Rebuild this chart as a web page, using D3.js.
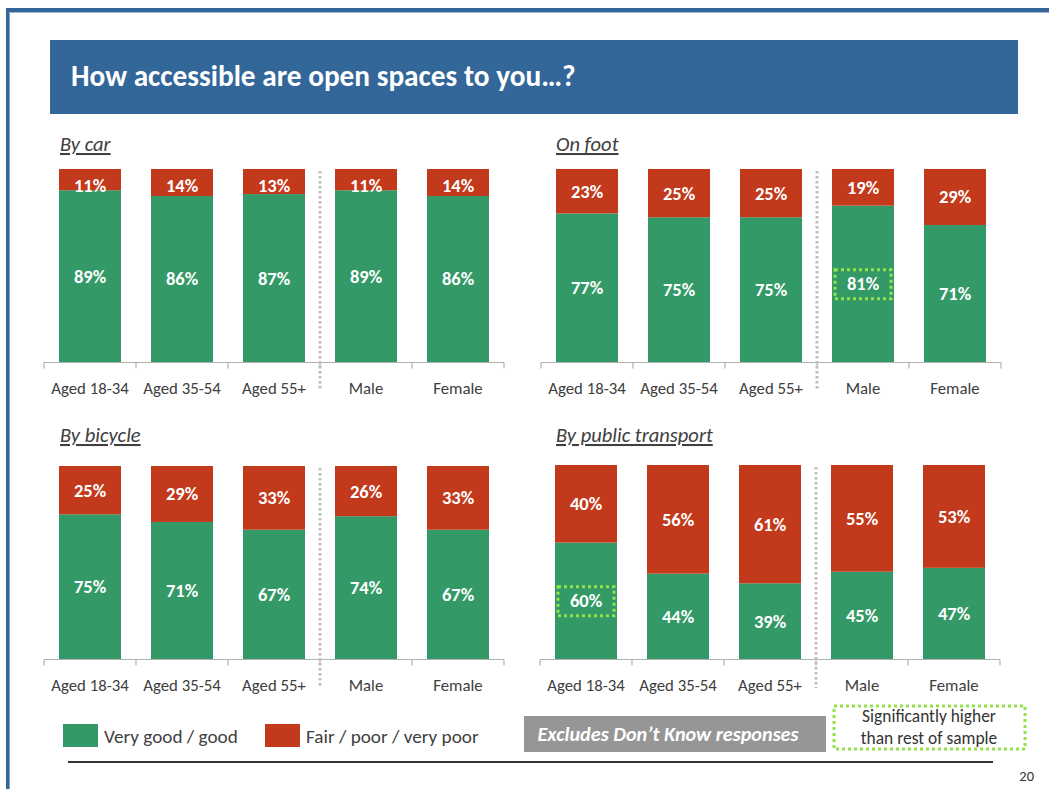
<!DOCTYPE html>
<html>
<head>
<meta charset="utf-8">
<script src="https://cdn.jsdelivr.net/npm/d3@7"></script>
<style>
  html, body { margin: 0; padding: 0; background: #fff; }
  svg { display: block; font-family: Carlito, Lato, "Open Sans", sans-serif; }
</style>
</head>
<body>
<svg id="slide" width="1049" height="789"></svg>
<script>
// Respondent groups shown on every panel
const groups = ["Aged 18-34", "Aged 35-54", "Aged 55+", "Male", "Female"];

// Share rating access "Very good / good" and "Fair / poor / very poor" (%)
const carGood      = [89, 86, 87, 89, 86];
const carPoor      = [11, 14, 13, 11, 14];
const footGood     = [77, 75, 75, 81, 71];
const footPoor     = [23, 25, 25, 19, 29];
const bicycleGood  = [75, 71, 67, 74, 67];
const bicyclePoor  = [25, 29, 33, 26, 33];
const publicGood   = [60, 44, 39, 45, 47];
const publicPoor   = [40, 56, 61, 55, 53];

// Groups significantly higher than the rest of the sample (good rating)
const footSignificant   = ["Male"];
const publicSignificant = ["Aged 18-34"];

const panelTitles = ["By car", "On foot", "By bicycle", "By public transport"];
const legendLabels = ["Very good / good", "Fair / poor / very poor"];

const GREEN = "#339966", RED = "#c2391b", BLUE = "#336699";
const LIME = "#92e34a", TEXT = "#404040";

const svg = d3.select("#slide");

// Slide frame
svg.append("rect").attr("x", 6).attr("y", 8).attr("width", 1043).attr("height", 4).attr("fill", BLUE);
svg.append("rect").attr("x", 6).attr("y", 12).attr("width", 1043).attr("height", 1).attr("fill", "#9db7d3");
svg.append("rect").attr("x", 6).attr("y", 8).attr("width", 3).attr("height", 781).attr("fill", BLUE);
svg.append("rect").attr("x", 9).attr("y", 13).attr("width", 1).attr("height", 776).attr("fill", "#7fa2c8");

// Title banner
svg.append("rect").attr("x", 50).attr("y", 40).attr("width", 968).attr("height", 74).attr("fill", BLUE);
svg.append("text").attr("x", 71).attr("y", 86)
  .attr("fill", "#fff").attr("font-size", 29.3).attr("font-weight", "bold")
  .text("How accessible are open spaces to you…?");

const panels = [
  { title: panelTitles[0], good: carGood,     poor: carPoor,     sig: [],                x0: 44,  x1: 504,  top: 169, base: 362, tx: 60,  ty: 151 },
  { title: panelTitles[1], good: footGood,    poor: footPoor,    sig: footSignificant,   x0: 541, x1: 1001, top: 169, base: 362, tx: 556, ty: 151 },
  { title: panelTitles[2], good: bicycleGood, poor: bicyclePoor, sig: [],                x0: 44,  x1: 504,  top: 466, base: 659, tx: 60,  ty: 442 },
  { title: panelTitles[3], good: publicGood,  poor: publicPoor,  sig: publicSignificant, x0: 540, x1: 1000, top: 465, base: 659, tx: 556, ty: 442 }
];

const PAD = 0.326;

panels.forEach(p => {
  const g = svg.append("g");

  const x = d3.scaleBand().domain(groups).range([p.x0, p.x1])
    .paddingInner(PAD).paddingOuter(PAD / 2);
  const y = d3.scaleLinear().domain([0, 100]).range([p.base, p.top]);

  const rows = groups.map((name, i) => ({ name, good: p.good[i], poor: p.poor[i] }));
  const stacked = d3.stack().keys(["good", "poor"])(rows);

  // Panel heading
  g.append("text").attr("x", p.tx).attr("y", p.ty)
    .attr("fill", TEXT).attr("font-size", 20.5).attr("font-style", "italic")
    .attr("text-decoration", "underline")
    .text(p.title);

  // Stacked bars
  const colors = { good: GREEN, poor: RED };
  stacked.forEach(layer => {
    g.selectAll(null).data(layer).join("rect")
      .attr("x", d => x(d.data.name))
      .attr("width", x.bandwidth())
      .attr("y", d => y(d[1]))
      .attr("height", d => y(d[0]) - y(d[1]))
      .attr("fill", colors[layer.key]);
  });

  // Value labels, centred in each segment (kept clear of the bar top)
  stacked.forEach(layer => {
    g.selectAll(null).data(layer).join("text")
      .attr("x", d => x(d.data.name) + x.bandwidth() / 2)
      .attr("y", d => Math.max((y(d[0]) + y(d[1])) / 2, y(100) + 17))
      .attr("dy", "0.35em")
      .attr("text-anchor", "middle")
      .attr("fill", "#fff").attr("font-size", 18.5).attr("font-weight", "bold")
      .text(d => (d[1] - d[0]) + "%");
  });

  // Significance markers around the good-rating label
  const goodLayer = stacked[0].filter(d => p.sig.includes(d.data.name));
  g.selectAll(null).data(goodLayer).join("rect")
    .attr("x", d => x(d.data.name) + 3)
    .attr("width", x.bandwidth() - 6)
    .attr("y", d => (y(d[0]) + y(d[1])) / 2 - 14)
    .attr("height", 29)
    .attr("fill", "none").attr("stroke", LIME)
    .attr("stroke-width", 3).attr("stroke-dasharray", "3,3");

  // Category axis with ticks between groups
  const axisY = p.base + 0.5;
  g.append("line").attr("x1", p.x0).attr("x2", p.x1).attr("y1", axisY).attr("y2", axisY)
    .attr("stroke", "#b0b0b0").attr("stroke-width", 1.2);
  const step = x.step();
  const bounds = d3.range(groups.length + 1).map(i => p.x0 + i * step);
  g.selectAll(null).data(bounds).join("line")
    .attr("x1", d => d).attr("x2", d => d)
    .attr("y1", axisY).attr("y2", axisY + 6)
    .attr("stroke", "#b0b0b0").attr("stroke-width", 1.2);
  g.selectAll(null).data(groups).join("text")
    .attr("x", d => x(d) + x.bandwidth() / 2)
    .attr("y", p.base + 32)
    .attr("text-anchor", "middle")
    .attr("fill", TEXT).attr("font-size", 16.8)
    .text(d => d);

  // Dotted divider between age bands and gender
  const divX = bounds[3];
  g.append("line").attr("x1", divX).attr("x2", divX)
    .attr("y1", p.top + 2).attr("y2", p.base + 29)
    .attr("stroke", "#bfbfbf").attr("stroke-width", 3).attr("stroke-dasharray", "2.5,2.5");
});

// Legend
const legend = svg.append("g");
const legendItems = [
  { label: legendLabels[0], color: GREEN, x: 63 },
  { label: legendLabels[1], color: RED,   x: 265 }
];
legend.selectAll(null).data(legendItems).join("rect")
  .attr("x", d => d.x).attr("y", 724).attr("width", 35).attr("height", 23)
  .attr("fill", d => d.color);
legend.selectAll(null).data(legendItems).join("text")
  .attr("x", d => d.x + 41).attr("y", 743)
  .attr("fill", TEXT).attr("font-size", 19.2)
  .text(d => d.label);

// Note box
svg.append("rect").attr("x", 524).attr("y", 716).attr("width", 302).attr("height", 36).attr("fill", "#969696");
svg.append("text").attr("x", 668).attr("y", 741).attr("text-anchor", "middle")
  .attr("fill", "#fff").attr("font-size", 20.2).attr("font-weight", "bold").attr("font-style", "italic")
  .text("Excludes Don’t Know responses");

// Significance key
svg.append("rect").attr("x", 834).attr("y", 706).attr("width", 191).attr("height", 43)
  .attr("fill", "none").attr("stroke", LIME).attr("stroke-width", 3).attr("stroke-dasharray", "3,3");
svg.append("text").attr("x", 929).attr("y", 722).attr("text-anchor", "middle")
  .attr("fill", "#333").attr("font-size", 17.4).text("Significantly higher");
svg.append("text").attr("x", 929).attr("y", 744).attr("text-anchor", "middle")
  .attr("fill", "#333").attr("font-size", 17.4).text("than rest of sample");

// Footer rule and page number
svg.append("rect").attr("x", 68).attr("y", 761).attr("width", 925).attr("height", 2).attr("fill", "#333");
svg.append("text").attr("x", 1034).attr("y", 781).attr("text-anchor", "end")
  .attr("fill", "#333").attr("font-size", 14.5).text("20");
</script>
</body>
</html>
